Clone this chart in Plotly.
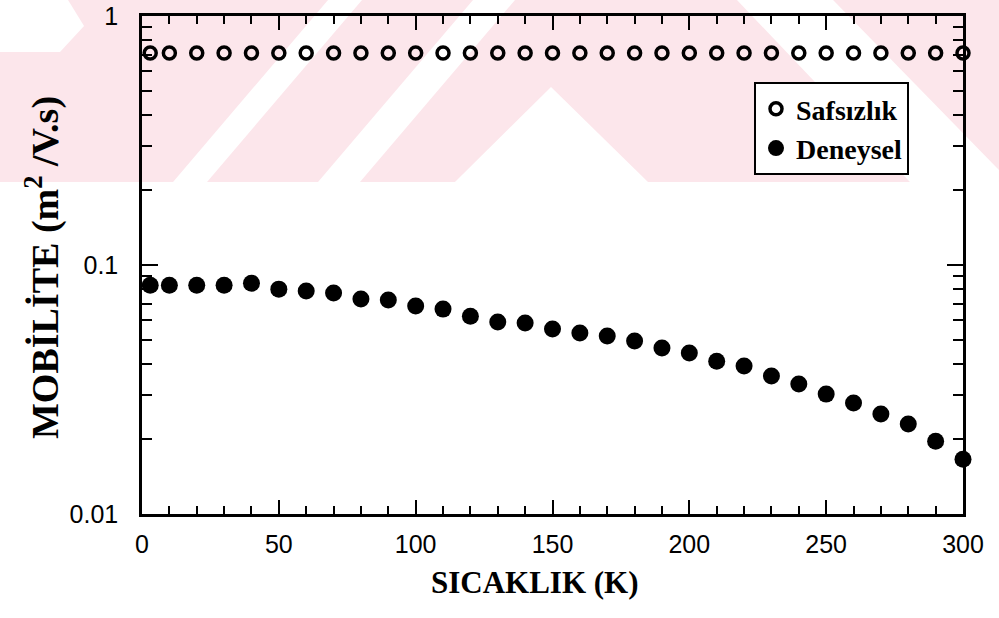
import plotly.graph_objects as go

# ---- data ----
temperature_K = [3, 10, 20, 30, 40, 50, 60, 70, 80, 90, 100, 110, 120, 130, 140, 150,
                 160, 170, 180, 190, 200, 210, 220, 230, 240, 250, 260, 270, 280, 290, 300]
safsizlik = [0.71, 0.71, 0.71, 0.71, 0.71, 0.71, 0.71, 0.71, 0.71, 0.71, 0.71, 0.71,
             0.71, 0.71, 0.71, 0.71, 0.71, 0.71, 0.71, 0.71, 0.71, 0.71, 0.71, 0.71,
             0.71, 0.71, 0.71, 0.71, 0.71, 0.71, 0.71]
deneysel = [0.083, 0.083, 0.083, 0.083, 0.0845, 0.080, 0.0786, 0.0772, 0.073, 0.0723,
            0.0684, 0.0665, 0.0623, 0.059, 0.0585, 0.0553, 0.0533, 0.0519, 0.0495, 0.0464,
            0.0443, 0.0411, 0.0393, 0.0358, 0.0333, 0.0303, 0.0279, 0.0252, 0.0230, 0.0196,
            0.0166]
x_ticks = [0, 50, 100, 150, 200, 250, 300]
y_ticks = [0.01, 0.1, 1]
y_tick_labels = ["0.01", "0.1", "1"]

W, H = 999, 618
ML, MR, MT, MB = 142, 36, 16, 104
PW, PH = W - ML - MR, H - MT - MB


def px(x):
    return (x - ML) / PW


def py(y):
    return (H - MB - y) / PH


def poly(points):
    return "M " + " L ".join(f"{px(a):.4f},{py(b):.4f}" for a, b in points) + " Z"


# faint watermark band behind the chart
PINK = "#fce6eb"
shapes = [dict(type="path", xref="paper", yref="paper", layer="below",
               path=poly([(0, 0), (999, 0), (999, 182), (0, 182)]),
               fillcolor=PINK, line=dict(width=0))]
white_polys = [
    [(0, 0), (68, 0), (84, 26), (60, 52), (0, 52)],
    [(173, 182), (207, 182), (362, 0), (328, 0)],
    [(318, 182), (360, 182), (515, 0), (473, 0)],
    [(551, 87), (455, 182), (648, 182)],
    [(737, 0), (833, 0), (999, 170), (999, 182), (910, 182)],
]
for p in white_polys:
    shapes.append(dict(type="path", xref="paper", yref="paper", layer="below",
                       path=poly(p), fillcolor="white", line=dict(width=0)))

fig = go.Figure()
fig.add_trace(go.Scatter(
    x=temperature_K, y=safsizlik, mode="markers", name="Safsızlık",
    marker=dict(symbol="circle-open", size=12, color="black", line=dict(width=3.5)),
    cliponaxis=False))
fig.add_trace(go.Scatter(
    x=temperature_K, y=deneysel, mode="markers", name="Deneysel",
    marker=dict(symbol="circle", size=17, color="black"),
    cliponaxis=False))

tick_font = dict(family="Liberation Sans Narrow, Arial Narrow, Liberation Sans, sans-serif",
                 size=25, color="black")
serif = "Liberation Serif, Times New Roman, serif"
fig.update_layout(
    width=W, height=H,
    margin=dict(l=ML, r=MR, t=MT, b=MB, autoexpand=False),
    paper_bgcolor="white", plot_bgcolor="rgba(0,0,0,0)",
    shapes=shapes,
    showlegend=True,
    legend=dict(x=px(754), y=py(82), xanchor="left", yanchor="top",
                bordercolor="black", borderwidth=2, bgcolor="white",
                font=dict(family=serif, size=28, color="black", weight="bold"),
                entrywidth=190, itemsizing="trace", tracegroupgap=0),
    xaxis=dict(range=[0, 300], tickvals=x_ticks, ticks="inside", ticklen=14, tickwidth=2,
               tickcolor="black", showline=True, linecolor="black", linewidth=2.5,
               mirror="ticks", showgrid=False, zeroline=False, tickfont=tick_font,
               ticklabelstandoff=6, automargin=False,
               minor=dict(dtick=10, ticks="inside", ticklen=8, tickwidth=2,
                          tickcolor="black", showgrid=False)),
    yaxis=dict(type="log", range=[-2, 0], tickvals=y_ticks, ticktext=y_tick_labels,
               ticks="inside", ticklen=16, tickwidth=2, tickcolor="black",
               showline=True, linecolor="black", linewidth=2.5, mirror="ticks",
               showgrid=False, zeroline=False, tickfont=tick_font,
               ticklabelstandoff=16, automargin=False,
               minor=dict(dtick="D1", ticks="inside", ticklen=10, tickwidth=2,
                          tickcolor="black", showgrid=False)),
    annotations=[
        dict(text="<b>SICAKLIK (K)</b>", xref="paper", yref="paper",
             x=px(535), y=py(582), xanchor="center", yanchor="middle", showarrow=False,
             font=dict(family=serif, size=31, color="black")),
        dict(text="<b>MOBİLİTE (m<sup>2</sup> /V.s)</b>", xref="paper", yref="paper",
             x=px(42), y=py(268), xanchor="center", yanchor="middle", showarrow=False,
             textangle=-90,
             font=dict(family=serif, size=38, color="black")),
    ],
)

fig.write_html("out.html")
